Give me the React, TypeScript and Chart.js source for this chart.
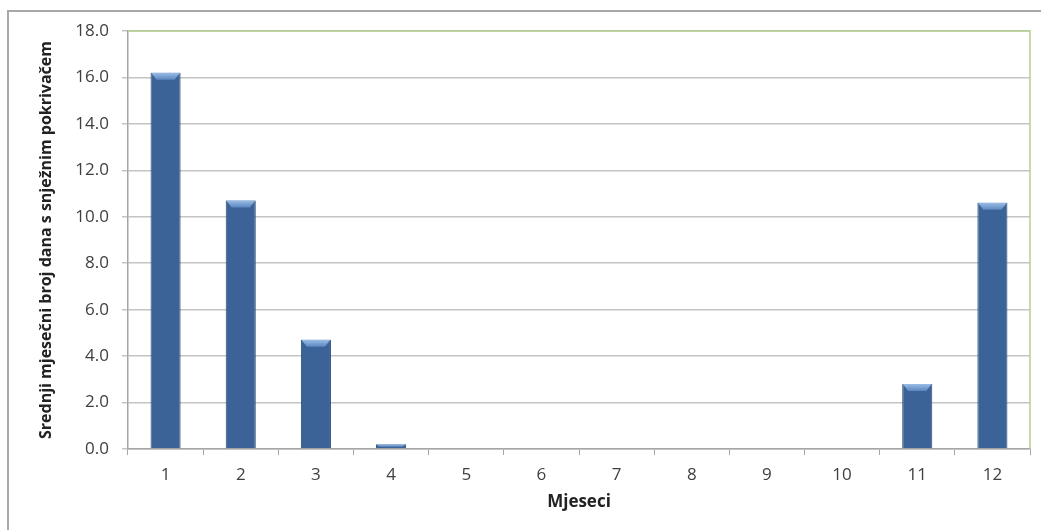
import { useEffect, useRef } from "react";
import { Chart, registerables } from "chart.js";

Chart.register(...registerables);

// Monthly averages of days with snow cover
const months = ["1", "2", "3", "4", "5", "6", "7", "8", "9", "10", "11", "12"];
const snowDays = [16.2, 10.7, 4.7, 0.2, 0, 0, 0, 0, 0, 0, 2.8, 10.6];
const yMin = 0;
const yMax = 18;
const yStep = 2;

const yTitle = "Srednji mjesečni broj dana s snježnim pokrivačem";
const xTitle = "Mjeseci";

const FONT = "'Open Sans', 'Liberation Sans', sans-serif";

// Green frame on the top and right of the plot area
const plotFrame = {
  id: "plotFrame",
  afterDraw(chart: any) {
    const { ctx, chartArea } = chart;
    ctx.save();
    ctx.strokeStyle = "#b4cf8a";
    ctx.lineWidth = 1.5;
    ctx.beginPath();
    ctx.moveTo(chartArea.left, chartArea.top);
    ctx.lineTo(chartArea.right, chartArea.top);
    ctx.lineTo(chartArea.right, chartArea.bottom);
    ctx.stroke();
    ctx.restore();
  },
};

// Light bevel on the top of each column
const barBevel = {
  id: "barBevel",
  afterDatasetsDraw(chart: any) {
    const { ctx } = chart;
    const meta = chart.getDatasetMeta(0);
    ctx.save();
    meta.data.forEach((bar: any) => {
      const { x, y, base, width } = bar.getProps(["x", "y", "base", "width"], true);
      const h = base - y;
      if (!(h >= 1)) return;
      const left = x - width / 2;
      const right = x + width / 2;
      const bh = Math.min(7, h * 0.6);
      const inset = Math.min(6, h);
      const g = ctx.createLinearGradient(0, y, 0, y + bh);
      g.addColorStop(0, "#9bbde6");
      g.addColorStop(1, "#5b86bf");
      ctx.fillStyle = g;
      ctx.beginPath();
      ctx.moveTo(left + 0.5, y);
      ctx.lineTo(right - 0.5, y);
      ctx.lineTo(right - inset, y + bh);
      ctx.lineTo(left + inset, y + bh);
      ctx.closePath();
      ctx.fill();
    });
    ctx.restore();
  },
};

export default function App() {
  const canvasRef = useRef<HTMLCanvasElement | null>(null);

  useEffect(() => {
    const canvas = canvasRef.current;
    if (!canvas) return;
    const chart = new Chart(canvas, {
      type: "bar",
      data: {
        labels: months,
        datasets: [
          {
            data: snowDays,
            backgroundColor: (c: any) => {
              const el = c.element;
              const x = el ? el.x : NaN;
              const w = el ? el.width : NaN;
              if (!Number.isFinite(x) || !Number.isFinite(w) || w <= 0) return "#3b6397";
              const g = c.chart.ctx.createLinearGradient(x - w / 2, 0, x + w / 2, 0);
              g.addColorStop(0, "#2d5080");
              g.addColorStop(0.15, "#3c6699");
              g.addColorStop(0.5, "#3e689c");
              g.addColorStop(0.85, "#3a6397");
              g.addColorStop(1, "#284870");
              return g;
            },
            borderColor: "#2b4a72",
            borderWidth: 1,
            borderSkipped: "bottom",
            barPercentage: 0.4,
            categoryPercentage: 1,
          },
        ],
      },
      options: {
        animation: false,
        responsive: false,
        maintainAspectRatio: false,
        layout: { padding: { left: 20, right: 11, top: 31, bottom: 18 } },
        plugins: {
          legend: { display: false },
          tooltip: { enabled: false },
        },
        scales: {
          x: {
            grid: {
              display: true,
              drawOnChartArea: false,
              drawTicks: true,
              tickLength: 6,
              color: "#a6a6a6",
              offset: true,
            },
            border: { color: "#a6a6a6", width: 1.5 },
            ticks: {
              color: "#404040",
              font: { family: FONT, size: 17 },
              padding: 10,
              maxRotation: 0,
            },
            title: {
              display: true,
              text: xTitle,
              color: "#222222",
              font: { family: FONT, size: 17, weight: "bold" },
              padding: { top: 4, bottom: 0 },
            },
            afterFit(scale: any) {
              scale.height = 63;
            },
          },
          y: {
            min: yMin,
            max: yMax,
            grid: {
              color: "#c4c4c4",
              lineWidth: 1.5,
              tickLength: 6,
            },
            border: { color: "#a6a6a6", width: 1.5 },
            ticks: {
              stepSize: yStep,
              color: "#404040",
              font: { family: FONT, size: 17 },
              padding: 13,
              callback: (v: any) => Number(v).toFixed(1),
            },
            title: {
              display: true,
              text: yTitle,
              color: "#222222",
              font: { family: FONT, size: 16, weight: "bold" },
              padding: { top: 17, bottom: 0 },
            },
            afterFit(scale: any) {
              scale.width = 108;
            },
          },
        },
      },
      plugins: [plotFrame, barBevel],
    });
    return () => chart.destroy();
  }, []);

  return (
    <div
      style={{
        position: "fixed",
        left: 0,
        top: 0,
        width: 1041,
        height: 530,
        overflow: "hidden",
        background: "#ffffff",
      }}
    >
      <div
        style={{
          position: "absolute",
          left: 7,
          top: 10,
          width: 1100,
          height: 600,
          border: "2px solid #a8a8a8",
        }}
      />
      <canvas
        ref={canvasRef}
        width={1041}
        height={530}
        style={{ position: "absolute", left: 0, top: 0 }}
      />
    </div>
  );
}
